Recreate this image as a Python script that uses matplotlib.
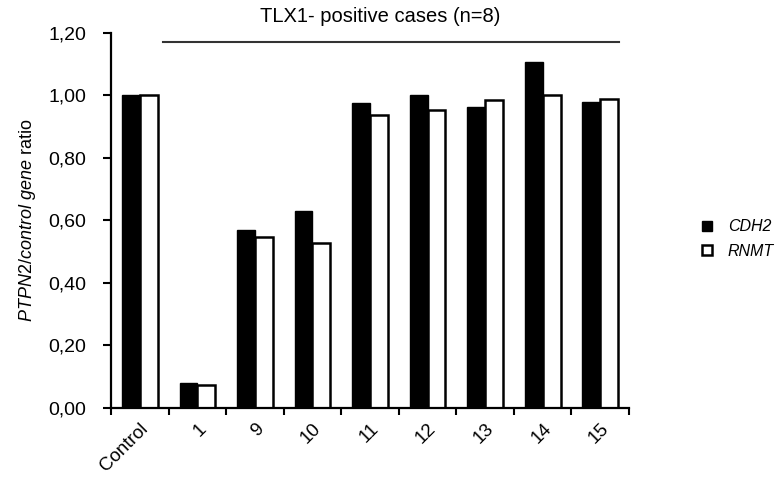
import matplotlib
matplotlib.use('Agg')
import matplotlib.pyplot as plt
import numpy as np
from matplotlib.patches import Patch

plt.rcParams['font.family'] = ['Liberation Sans', 'DejaVu Sans']
plt.rcParams['mathtext.fontset'] = 'custom'
plt.rcParams['mathtext.it'] = 'Liberation Sans:italic'
plt.rcParams['mathtext.rm'] = 'Liberation Sans'

# data
cases = ['Control', '1', '9', '10', '11', '12', '13', '14', '15']
cdh2 = [1.00, 0.080, 0.568, 0.631, 0.975, 1.00, 0.964, 1.106, 0.980]
rnmt = [1.00, 0.074, 0.547, 0.529, 0.938, 0.954, 0.985, 1.00, 0.990]
yticks = [0.0, 0.2, 0.4, 0.6, 0.8, 1.0, 1.2]

fig = plt.figure(figsize=(7.79, 4.84), dpi=100)
ax = fig.add_axes([0.1425, 0.157, 0.665, 0.775])

x = np.arange(len(cases))
w = 0.31
ax.bar(x - w / 2, cdh2, w, color='black', edgecolor='black', linewidth=1.0)
ax.bar(x + w / 2, rnmt, w, color='white', edgecolor='black', linewidth=1.8)

ax.set_xlim(-0.5, len(cases) - 0.5)
ax.set_ylim(0, 1.2)
ax.set_yticks(yticks)
ax.set_yticklabels([('%.2f' % v).replace('.', ',') for v in yticks], fontsize=14)

# ticks at group boundaries, labels at group centres
ax.set_xticks(np.arange(len(cases) + 1) - 0.5)
ax.set_xticklabels([])
ax.set_xticks(x, minor=True)
ax.set_xticklabels(cases, minor=True, rotation=45, ha='right',
                   rotation_mode='anchor', fontsize=13.5)
ax.tick_params(axis='x', which='minor', length=0, pad=9)
ax.tick_params(axis='x', which='major', length=5, width=1.5)
ax.tick_params(axis='y', length=6, width=1.5, pad=12)

for s in ['top', 'right']:
    ax.spines[s].set_visible(False)
for s in ['left', 'bottom']:
    ax.spines[s].set_linewidth(1.6)

ax.set_ylabel(r'$\it{PTPN2/control\ gene}$ ratio', fontsize=13, labelpad=7)

# bracket over the positive cases
fig.add_artist(plt.Line2D([163 / 779, 619 / 779], [1 - 42 / 484, 1 - 42 / 484],
                          color='#333333', linewidth=1.5))
fig.text(380 / 779, 1 - 17 / 484, 'TLX1- positive cases (n=8)',
         ha='center', va='center', fontsize=14.5)

handles = [Patch(facecolor='black', edgecolor='black'),
           Patch(facecolor='white', edgecolor='black', linewidth=1.8)]
fig.legend(handles, ['CDH2', 'RNMT'], loc='center left',
           bbox_to_anchor=(688 / 779, 1 - 239 / 484), frameon=False,
           prop={'style': 'italic', 'size': 11.5}, handlelength=0.6,
           handleheight=0.6, handletextpad=1.0, labelspacing=0.6)

fig.savefig('out.png', dpi=100)
